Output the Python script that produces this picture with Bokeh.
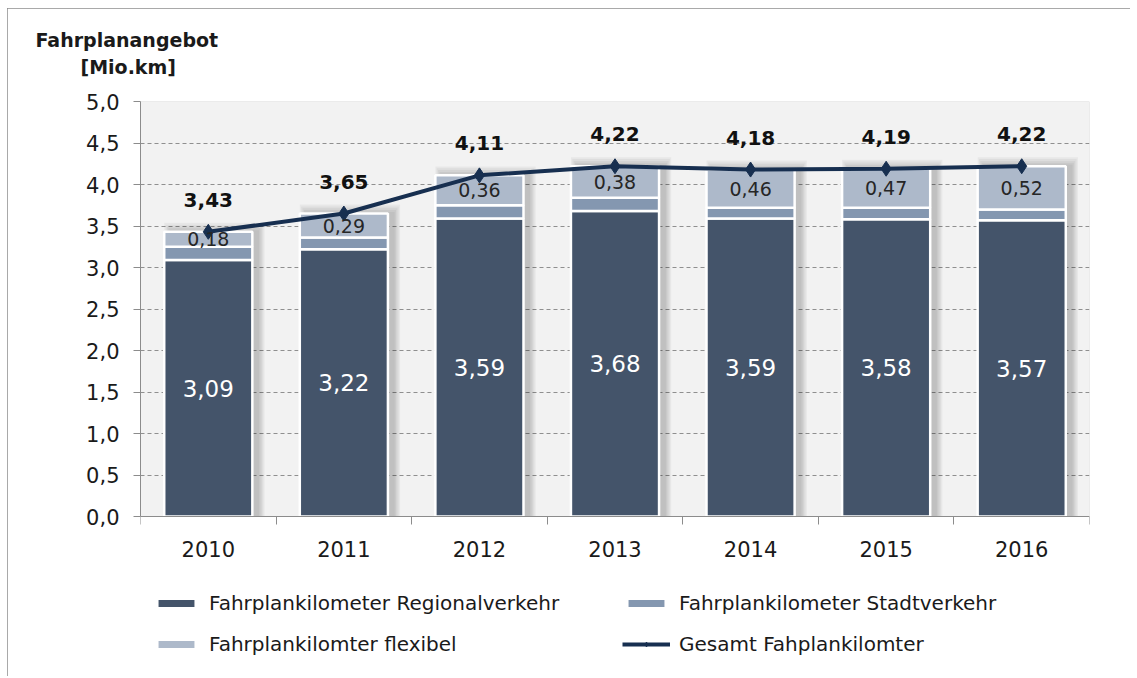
from bokeh.plotting import figure
from bokeh.models import (Range1d, FixedTicker, CustomJSTickFormatter, Legend, LegendItem,
                          Title, BoxAnnotation)
from bokeh.embed import file_html
from bokeh.resources import INLINE
from bokeh.core.properties import value

# ---------------- data ----------------
years = ["2010", "2011", "2012", "2013", "2014", "2015", "2016"]
regional = [3.09, 3.22, 3.59, 3.68, 3.59, 3.58, 3.57]
stadt = [0.16, 0.14, 0.16, 0.16, 0.13, 0.14, 0.13]
flexibel = [0.18, 0.29, 0.36, 0.38, 0.46, 0.47, 0.52]
gesamt = [3.43, 3.65, 4.11, 4.22, 4.18, 4.19, 4.22]
y_ticks = [0.0, 0.5, 1.0, 1.5, 2.0, 2.5, 3.0, 3.5, 4.0, 4.5, 5.0]
Y_MAX = 5.0

# ---------------- style / layout ----------------
FONT = "DejaVu Sans"
C_REG = "#44546A"
C_STA = "#8497B0"
C_FLX = "#ADB9CA"
C_LINE = "#172F50"
GRAY = "#8C8C8C"

W, H = 1123, 668
B_LEFT, B_RIGHT, B_TOP, B_BOTTOM = 133, 41, 93, 16
PLOT_PX = 415                       # pixel height of the 0..5 value area
FRAME_PX = H - B_TOP - B_BOTTOM     # full frame height (value area + legend area)
y_low = -Y_MAX * (FRAME_PX - PLOT_PX) / PLOT_PX

xs = list(range(len(years)))
bar_w = 0.65

def fmt(v, d=2):
    return f"{v:.{d}f}".replace(".", ",")

p = figure(width=W, height=H, output_backend="svg", toolbar_location=None,
           x_range=Range1d(-0.5, len(years) - 0.5), y_range=Range1d(y_low, Y_MAX),
           min_border_left=B_LEFT, min_border_right=B_RIGHT,
           min_border_top=B_TOP, min_border_bottom=B_BOTTOM)
p.margin = (8, 0, 0, 7)
p.styles = {"outline": "1px solid #8C8C8C", "outline-offset": "-1px"}
p.background_fill_color = "white"
p.border_fill_color = "white"
p.outline_line_color = None

# plot area background + border
area = BoxAnnotation(bottom=0, top=Y_MAX, fill_color="#F2F2F2", fill_alpha=1.0,
                     line_color=GRAY, line_width=1, level="image")
p.add_layout(area)

# grid
p.xgrid.visible = False
p.ygrid.ticker = FixedTicker(ticks=y_ticks[1:-1])
p.ygrid.grid_line_color = "#8F8F8F"
p.ygrid.grid_line_dash = "4 3"
p.ygrid.grid_line_width = 1

# y axis
p.yaxis.ticker = FixedTicker(ticks=y_ticks)
p.yaxis.bounds = (0, Y_MAX)
p.yaxis.formatter = CustomJSTickFormatter(code="return tick.toFixed(1).replace('.', ',');")
p.yaxis.axis_line_color = GRAY
p.yaxis.major_tick_line_color = GRAY
p.yaxis.major_tick_out = 7
p.yaxis.major_tick_in = 0
p.yaxis.minor_tick_line_color = None
p.yaxis.major_label_standoff = 14
p.yaxis.major_label_text_font = FONT
p.yaxis.major_label_text_font_size = "21px"
p.yaxis.major_label_text_color = "#1A1A1A"

# x axis (fixed at value 0)
p.xaxis.fixed_location = 0
p.xaxis.ticker = FixedTicker(ticks=xs, minor_ticks=[i - 0.5 for i in range(len(years) + 1)])
p.xaxis.major_label_overrides = {i: y for i, y in enumerate(years)}
p.xaxis.axis_line_color = GRAY
p.xaxis.major_tick_line_color = None
p.xaxis.major_tick_out = 0
p.xaxis.major_tick_in = 0
p.xaxis.minor_tick_line_color = GRAY
p.xaxis.minor_tick_out = 8
p.xaxis.minor_tick_in = 0
p.xaxis.major_label_standoff = 16
p.xaxis.major_label_text_font = FONT
p.xaxis.major_label_text_font_size = "21px"
p.xaxis.major_label_text_color = "#1A1A1A"

# bar shadows (soft glow offset up/right)
for i in range(5):
    p.vbar(x=[x + 0.045 for x in xs], width=bar_w + 0.01 + 0.02 * i,
           top=[g + 0.02 + 0.022 * i for g in gesamt], bottom=0,
           fill_color="black", fill_alpha=0.045, line_color=None)

# stacked bars
bot2 = regional
bot3 = [r + s for r, s in zip(regional, stadt)]
top3 = [b + f for b, f in zip(bot3, flexibel)]
r_reg = p.vbar(x=xs, width=bar_w, bottom=0, top=regional, fill_color=C_REG,
               line_color="white", line_width=2.5)
r_sta = p.vbar(x=xs, width=bar_w, bottom=bot2, top=bot3, fill_color=C_STA,
               line_color="white", line_width=2.5)
r_flx = p.vbar(x=xs, width=bar_w, bottom=bot3, top=top3, fill_color=C_FLX,
               line_color="white", line_width=2.5)

# total line
r_line = p.line(xs, gesamt, line_color=C_LINE, line_width=4)
r_pts = p.scatter(xs, gesamt, marker="diamond", size=15, fill_color=C_LINE, line_color=C_LINE)

# labels
p.text(x=xs, y=[r / 2 for r in regional], text=[fmt(v) for v in regional],
       text_align="center", text_baseline="middle", text_color="white",
       text_font=value(FONT), text_font_size="23px")
p.text(x=xs, y=[b + f / 2 for b, f in zip(bot3, flexibel)], text=[fmt(v) for v in flexibel],
       text_align="center", text_baseline="middle", text_color="#262626",
       text_font=value(FONT), text_font_size="19px")
p.text(x=xs, y=gesamt, text=[fmt(v) for v in gesamt], y_offset=-32,
       text_align="center", text_baseline="middle", text_color="#111111",
       text_font=value(FONT), text_font_size="20px", text_font_style="bold")

# axis title (two lines) above the frame; a blank spacer title keeps the gap to the frame
p.add_layout(Title(text=" ", align="left", text_font=FONT, text_font_size="10px",
                   standoff=9), "above")
p.add_layout(Title(text="[Mio.km]", align="left", offset=-60, text_font=FONT,
                   text_font_size="19px", text_font_style="bold", text_color="#1A1A1A",
                   standoff=4), "above")
p.add_layout(Title(text="Fahrplanangebot", align="left", offset=-105, text_font=FONT,
                   text_font_size="19px", text_font_style="bold", text_color="#1A1A1A",
                   standoff=2), "above")

# legend (2 columns) in the lower part of the frame
legend = Legend(items=[
    LegendItem(label="Fahrplankilometer Regionalverkehr", renderers=[r_reg]),
    LegendItem(label="Fahrplankilometer Stadtverkehr", renderers=[r_sta]),
    LegendItem(label="Fahrplankilomter flexibel", renderers=[r_flx]),
    LegendItem(label="Gesamt Fahplankilomter", renderers=[r_line, r_pts]),
], orientation="horizontal", ncols=2, location=(12, 4),
    glyph_width=48, glyph_height=12, label_height=24, label_width=396, label_standoff=9,
    spacing=17, padding=0, margin=0, border_line_color=None,
    background_fill_alpha=0, label_text_font=FONT,
    label_text_font_size="20px", label_text_color="#1A1A1A")
p.add_layout(legend, "center")

open("out.html", "w").write(file_html(p, INLINE))
